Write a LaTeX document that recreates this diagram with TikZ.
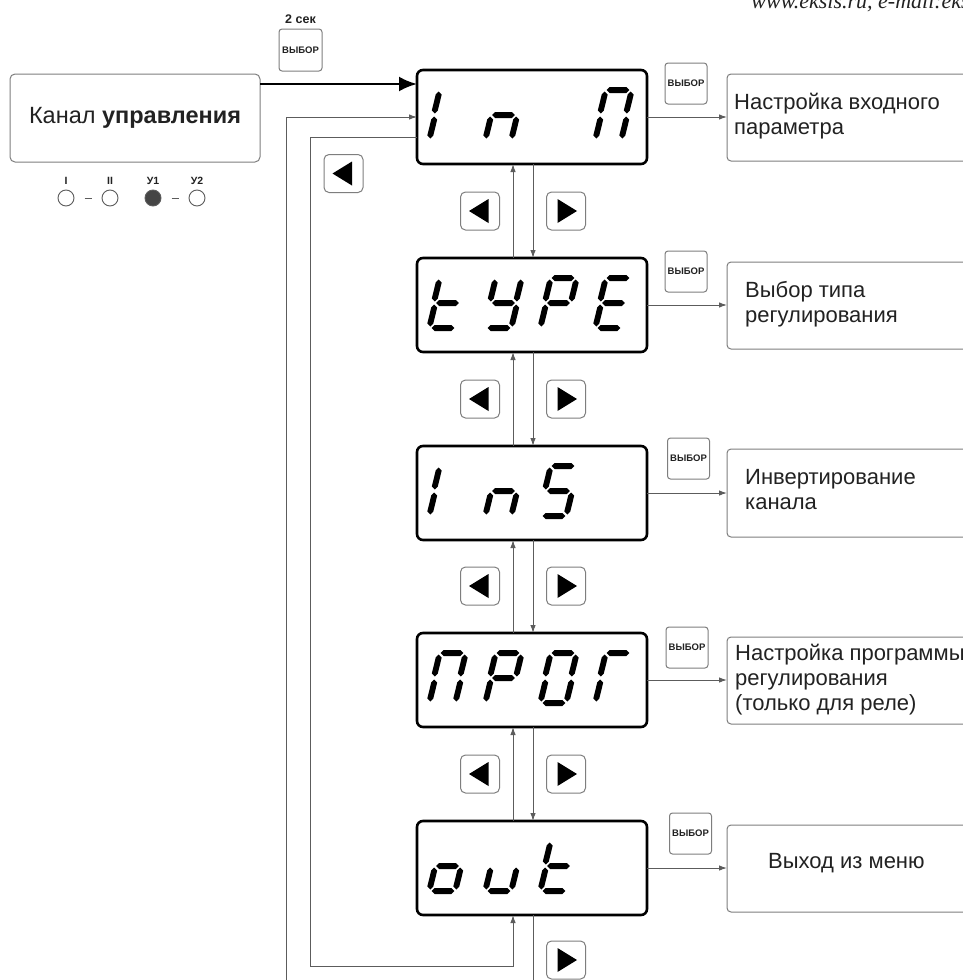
\documentclass[tikz,border=0pt]{standalone}
\usepackage{fontspec}
\setmainfont{Liberation Sans}
\newfontfamily\webfont{Liberation Serif}
\usetikzlibrary{arrows.meta}
\definecolor{conngray}{HTML}{5C5C5C}
\definecolor{boxgray}{HTML}{7E7E7E}
\definecolor{ledfill}{HTML}{454545}
\definecolor{txtgray}{HTML}{222222}
\tikzset{
  disp/.style={draw=black, line width=2.6pt, rounded corners=6pt, minimum width=230pt, minimum height=94pt, inner sep=0pt, outer sep=0pt},
  conn/.style={draw=conngray, line width=1pt},
  tipa/.style={-{Latex[length=8pt,width=5.5pt]}},
  bigarrow/.style={draw=black, line width=2.6pt, -{Latex[length=18pt,width=15pt]}},
  infobox/.style={draw=boxgray, line width=1pt, rounded corners=4pt, minimum width=280pt, minimum height=87pt, inner sep=0pt, outer sep=0pt},
  infotext/.style={anchor=west, align=left, inner sep=0pt, text=txtgray, font=\fontsize{22}{25}\selectfont},
  selbtn/.style={draw=boxgray, line width=1pt, rounded corners=3pt, minimum width=42pt, minimum height=41pt, inner sep=0pt, outer sep=0pt, text=txtgray, font=\fontsize{9.5}{10}\selectfont\bfseries},
  navbtn/.style={draw=boxgray, line width=1pt, rounded corners=5pt, minimum width=39pt, minimum height=38pt, inner sep=0pt, outer sep=0pt},
  led/.style={circle, draw=conngray, line width=0.9pt, minimum size=16pt, inner sep=0pt, outer sep=0pt},
  ledlabel/.style={inner sep=0pt, text=txtgray, font=\fontsize{10.5}{11}\selectfont\bfseries},
}
% one segment: horizontal (x1,x2,y) and slanted vertical (bx,by,tx,ty), pointed ends
\newcommand\hseg[3]{\fill[black] (#1,#3) -- ({#1+3.0},{#3-3.0}) -- ({#2-3.0},{#3-3.0}) -- (#2,#3) -- ({#2-3.0},{#3+3.0}) -- ({#1+3.0},{#3+3.0}) -- cycle;}
\newcommand\vseg[4]{\fill[black] (#1,#2) -- ({#1+3.0},{#2-3.0}) -- ({#3+3.0},{#4+3.0}) -- (#3,#4) -- ({#3-3.0},{#4+3.0}) -- ({#1-3.0},{#2-3.0}) -- cycle;}
\newcommand\sgA{\hseg{10.56}{33.44}{-50}}
\newcommand\sgG{\hseg{6.06}{28.94}{-25}}
\newcommand\sgD{\hseg{1.56}{24.44}{0}}
\newcommand\sgF{\vseg{4.77}{-26.5}{8.73}{-48.5}}
\newcommand\sgE{\vseg{0.27}{-1.5}{4.23}{-23.5}}
\newcommand\sgB{\vseg{30.77}{-26.5}{34.73}{-48.5}}
\newcommand\sgC{\vseg{26.27}{-1.5}{30.23}{-23.5}}
\newcommand\segchr[3]{\begin{scope}[shift={(#1,#2)}]#3\end{scope}}
\newcommand\lefttri[1]{\fill[black] ([xshift=-11pt]#1.center) -- ([xshift=8.5pt,yshift=12pt]#1.center) -- ([xshift=8.5pt,yshift=-12pt]#1.center) -- cycle;}
\newcommand\righttri[1]{\fill[black] ([xshift=11pt]#1.center) -- ([xshift=-8.5pt,yshift=12pt]#1.center) -- ([xshift=-8.5pt,yshift=-12pt]#1.center) -- cycle;}
\begin{document}
\begin{tikzpicture}[x=1pt,y=-1pt]
\useasboundingbox (0,0) rectangle (963,980);
\fill[white] (0,0) rectangle (963,980);
\clip (0,0) rectangle (963,980);

% website line (cut by the right edge as in the reference)
\node[anchor=base east, inner sep=0pt, font=\webfont\itshape\fontsize{22}{22}\selectfont, text=txtgray] (web) at (970,8) {www.eksis.ru, e-mail:eks};

% control channel box
\node[draw=boxgray, line width=1pt, rounded corners=5pt, minimum width=250pt, minimum height=88pt, inner sep=0pt, outer sep=0pt, text=txtgray, font=\fontsize{23.5}{25}\selectfont] (kan) at (135,118) {Канал \textbf{управления}};

% top select button
\node[selbtn, minimum width=43pt, minimum height=42pt] (vb0) at (300.5,50) {ВЫБОР};
\node[inner sep=0pt, text=txtgray, font=\fontsize{12.5}{13}\selectfont\bfseries] (sec) at (300.5,19) {2 сек};

% LEDs
\node[led] (l1) at (66,198) {};
\node[led] (l2) at (110,198) {};
\node[led, fill=ledfill] (l3) at (153,198) {};
\node[led] (l4) at (197,198) {};
\node[ledlabel] (ll1) at (66,181) {I};
\node[ledlabel] (ll2) at (110,181) {II};
\node[ledlabel] (ll3) at (153,181) {У1};
\node[ledlabel] (ll4) at (197,181) {У2};
\draw[conngray, line width=1pt, shorten <=10.5pt, shorten >=10.5pt] (l1) -- (l2);
\draw[conngray, line width=1pt, shorten <=10.5pt, shorten >=10.5pt] (l3) -- (l4);

% displays
\node[disp] (d1) at (532,117) {};
\node[disp] (d2) at (532,305) {};
\node[disp] (d3) at (532,493) {};
\node[disp] (d4) at (532,680) {};
\node[disp] (d5) at (532,868) {};

% display 1: I n  П
\segchr{430}{140}{\sgE\sgF}
\segchr{486}{140}{\sgC\sgE\sgG}
\segchr{596}{140}{\sgA\sgB\sgC\sgE\sgF}
% display 2: t Y P E
\segchr{430}{328}{\sgD\sgE\sgF\sgG}
\segchr{486}{328}{\sgB\sgC\sgD\sgF\sgG}
\segchr{541}{328}{\sgA\sgB\sgE\sgF\sgG}
\segchr{596}{328}{\sgA\sgD\sgE\sgF\sgG}
% display 3: I n S
\segchr{430}{516}{\sgE\sgF}
\segchr{486}{516}{\sgC\sgE\sgG}
\segchr{541}{516}{\sgA\sgC\sgD\sgF\sgG}
% display 4: П P O Г
\segchr{430}{703}{\sgA\sgB\sgC\sgE\sgF}
\segchr{486}{703}{\sgA\sgB\sgE\sgF\sgG}
\segchr{541}{703}{\sgA\sgB\sgC\sgD\sgE\sgF}
\segchr{596}{703}{\sgA\sgE\sgF}
% display 5: o u t
\segchr{430}{891}{\sgC\sgD\sgE\sgG}
\segchr{486}{891}{\sgC\sgD\sgE}
\segchr{541}{891}{\sgD\sgE\sgF\sgG}

% navigation buttons
\node[navbtn] (bl1) at (480,211) {};  \lefttri{bl1}
\node[navbtn] (br1) at (566,211) {};  \righttri{br1}
\node[navbtn] (bl2) at (480,399) {};  \lefttri{bl2}
\node[navbtn] (br2) at (566,399) {};  \righttri{br2}
\node[navbtn] (bl3) at (480,586) {};  \lefttri{bl3}
\node[navbtn] (br3) at (566,586) {};  \righttri{br3}
\node[navbtn] (bl4) at (480,774) {};  \lefttri{bl4}
\node[navbtn] (br4) at (566,774) {};  \righttri{br4}
\node[navbtn] (br5) at (566,960) {};  \righttri{br5}
\node[navbtn] (bl0) at (343.5,173.5) {}; \lefttri{bl0}

% select buttons on the right
\node[selbtn] (vb1) at (686,83.5) {ВЫБОР};
\node[selbtn] (vb2) at (686,271.5) {ВЫБОР};
\node[selbtn] (vb3) at (688.5,458.5) {ВЫБОР};
\node[selbtn] (vb4) at (687,647.5) {ВЫБОР};
\node[selbtn] (vb5) at (690.5,833.5) {ВЫБОР};

% info boxes
\node[infobox] (b1) at (867,117.5) {};
\node[infobox] (b2) at (867,305.5) {};
\node[infobox, minimum height=88pt] (b3) at (867,493) {};
\node[infobox] (b4) at (867,680.5) {};
\node[infobox] (b5) at (867,868.5) {};
\node[infotext] (t1) at (734,116) {Настройка входного\\параметра};
\node[infotext] (t2) at (745,304.5) {Выбор типа\\регулирования};
\node[infotext] (t3) at (745,490) {Инвертирование\\канала};
\node[infotext] (t4) at (735,680) {Настройка программы\\регулирования\\(только для реле)};
\node[infotext] (t5) at (768,863) {Выход из меню};

% arrows display -> info box
\draw[conn, tipa] (d1.east) -- (d1.east -| b1.west);
\draw[conn, tipa] (d2.east) -- (d2.east -| b2.west);
\draw[conn, tipa] (d3.east) -- (d3.east -| b3.west);
\draw[conn, tipa] (d4.east) -- (d4.east -| b4.west);
\draw[conn, tipa] (d5.east) -- (d5.east -| b5.west);

% vertical links between displays
\draw[conn, tipa] ([xshift=-19pt]d2.north) -- ([xshift=-19pt]d1.south);
\draw[conn, tipa] ([xshift=1pt]d1.south) -- ([xshift=1pt]d2.north);
\draw[conn, tipa] ([xshift=-19pt]d3.north) -- ([xshift=-19pt]d2.south);
\draw[conn, tipa] ([xshift=1pt]d2.south) -- ([xshift=1pt]d3.north);
\draw[conn, tipa] ([xshift=-19pt]d4.north) -- ([xshift=-19pt]d3.south);
\draw[conn, tipa] ([xshift=1pt]d3.south) -- ([xshift=1pt]d4.north);
\draw[conn, tipa] ([xshift=-19pt]d5.north) -- ([xshift=-19pt]d4.south);
\draw[conn, tipa] ([xshift=1pt]d4.south) -- ([xshift=1pt]d5.north);

% from last display downwards (leaves the frame)
\coordinate (outend) at (533,995);
\draw[conn] ([xshift=1pt]d5.south) -- (outend);

% outer loop back to first display
\coordinate (loopstart) at (286,995);
\draw[conn, tipa] (loopstart) |- (d1.west);

% inner loop: first display left -> last display
\coordinate (innercorner) at (310,966);
\draw[conn, tipa] ([yshift=-20pt]d1.west) -| (innercorner) -| ([xshift=-19pt]d5.south);

% thick entry arrow
\draw[bigarrow] ([yshift=34pt]kan.east) coordinate (ka) -- (ka -| d1.west);
\end{tikzpicture}
\end{document}
